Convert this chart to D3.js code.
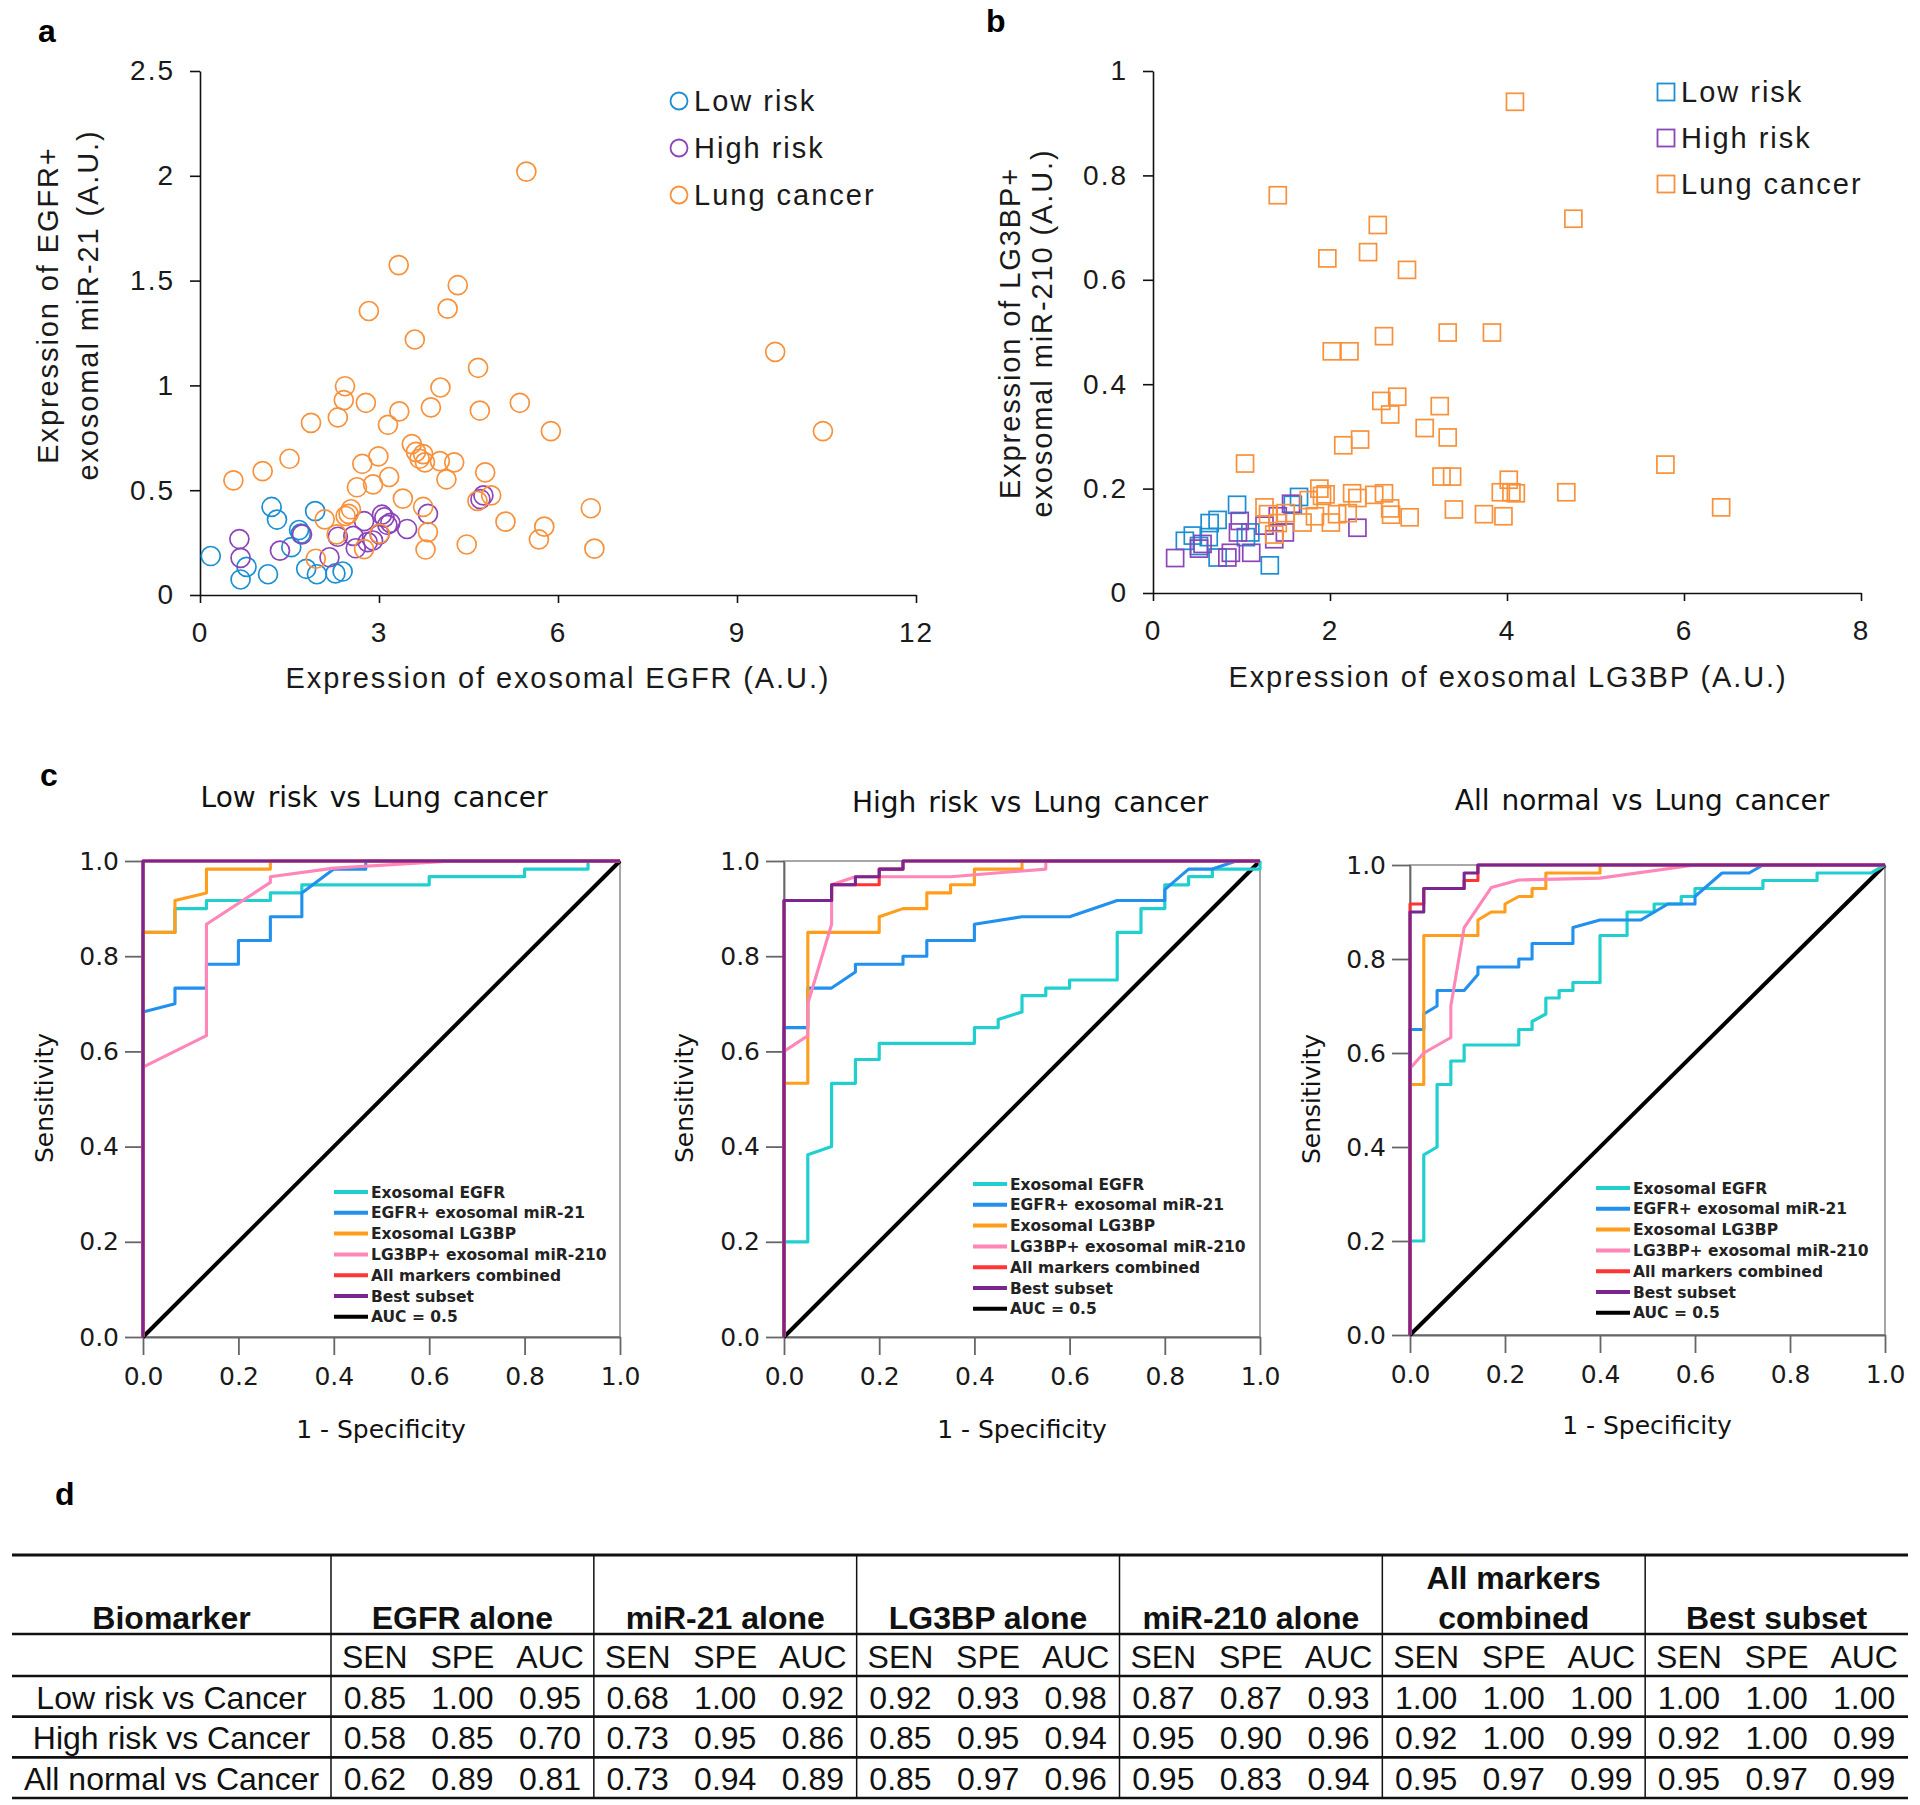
<!DOCTYPE html>
<html><head><meta charset="utf-8">
<script src="https://cdn.jsdelivr.net/npm/d3@7"></script>
<style>body{margin:0;background:#fff}svg{display:block}</style>
</head><body>
<svg id="fig" width="1920" height="1805"></svg>
<script>
// ---------- DATA ----------
const groupNames = ["Low risk", "High risk", "Lung cancer"];
const xTicksA = [0, 3, 6, 9, 12];
const yTicksA = [0, 0.5, 1, 1.5, 2, 2.5];
const xTicksB = [0, 2, 4, 6, 8];
const yTicksB = [0, 0.2, 0.4, 0.6, 0.8, 1];
const rocTicks = [0, 0.2, 0.4, 0.6, 0.8, 1.0];

const lowRiskA = [[0.18,0.186],[0.68,0.074],[0.78,0.134],[1.14,0.099],[1.20,0.42],[1.29,0.36],[1.53,0.228],[1.66,0.31],[1.69,0.293],[1.78,0.125],[1.93,0.40],[1.96,0.099],[2.27,0.103],[2.39,0.112]];
const highRiskA = [[0.66,0.267],[0.68,0.177],[1.34,0.212],[1.71,0.289],[2.17,0.18],[2.31,0.278],[2.57,0.282],[2.61,0.223],[2.75,0.352],[2.81,0.252],[2.90,0.26],[3.01,0.289],[3.05,0.383],[3.09,0.37],[3.14,0.335],[3.19,0.344],[3.47,0.315],[3.82,0.387],[4.70,0.457],[4.75,0.475]];
const lungCancerA = [[0.56,0.547],[1.05,0.591],[1.50,0.650],[1.86,0.821],[1.94,0.173],[2.09,0.361],[2.31,0.847],[2.29,0.289],[2.43,0.996],[2.41,0.93],[2.44,0.377],[2.49,0.387],[2.53,0.409],[2.63,0.514],[2.72,0.626],[2.78,0.917],[2.83,1.355],[2.75,0.219],[2.90,0.528],[2.99,0.661],[3.01,0.293],[3.15,0.812],[3.17,0.563],[3.33,1.574],[3.34,0.876],[3.40,0.46],[3.55,0.72],[3.60,1.219],[3.62,0.683],[3.68,0.65],[3.74,0.672],[3.77,0.633],[3.74,0.42],[3.82,0.30],[3.78,0.217],[3.87,0.895],[4.02,0.639],[4.03,0.99],[4.13,0.552],[4.15,1.366],[4.26,0.633],[4.32,1.478],[4.47,0.241],[4.66,1.084],[4.69,0.88],[4.65,0.449],[4.78,0.585],[4.88,0.475],[5.12,0.35],[5.36,0.917],[5.47,2.02],[5.68,0.265],[5.77,0.326],[5.88,0.782],[6.55,0.414],[6.61,0.221],[9.64,1.16],[10.44,0.782]];

const lowRiskB = [[0.36,0.10],[0.45,0.11],[0.52,0.09],[0.63,0.107],[0.64,0.134],[0.73,0.14],[0.73,0.068],[0.95,0.169],[1.05,0.107],[1.10,0.116],[1.32,0.053],[1.58,0.169],[1.65,0.184]];
const highRiskB = [[0.25,0.067],[0.52,0.085],[0.56,0.094],[0.84,0.068],[0.88,0.077],[0.96,0.116],[0.98,0.138],[1.11,0.077],[1.26,0.129],[1.37,0.103],[1.41,0.147],[1.49,0.116],[1.56,0.171],[2.31,0.125]];
const lungCancerB = [[1.04,0.248],[1.41,0.762],[1.26,0.164],[1.30,0.151],[1.37,0.112],[1.41,0.134],[1.50,0.153],[1.69,0.135],[1.76,0.178],[1.83,0.147],[1.88,0.20],[1.91,0.186],[1.95,0.189],[1.97,0.641],[2.02,0.463],[2.01,0.135],[2.08,0.151],[2.15,0.283],[2.20,0.153],[2.22,0.463],[2.25,0.191],[2.31,0.182],[2.34,0.294],[2.43,0.653],[2.50,0.188],[2.54,0.705],[2.58,0.368],[2.61,0.492],[2.61,0.191],[2.68,0.342],[2.68,0.162],[2.69,0.15],[2.76,0.376],[2.87,0.619],[2.90,0.145],[3.07,0.316],[3.24,0.358],[3.26,0.223],[3.33,0.499],[3.33,0.298],[3.38,0.223],[3.40,0.16],[3.74,0.151],[3.83,0.499],[3.93,0.193],[3.96,0.147],[4.02,0.217],[4.05,0.193],[4.09,0.941],[4.10,0.191],[4.67,0.193],[4.75,0.717],[5.79,0.246],[6.42,0.164]];

const rocSeriesNames = ["Exosomal EGFR","EGFR+ exosomal miR-21","Exosomal LG3BP","LG3BP+ exosomal miR-210","All markers combined","Best subset","AUC = 0.5"];
const rocTitles = ["Low risk vs Lung cancer","High risk vs Lung cancer","All normal vs Lung cancer"];
const chance = [[0,0],[1,1]];

// Low risk vs Lung cancer
const lowEGFR = [[0,0],[0,0.85],[0.067,0.85],[0.067,0.90],[0.133,0.90],[0.133,0.917],[0.267,0.917],[0.267,0.933],[0.333,0.933],[0.333,0.95],[0.6,0.95],[0.6,0.967],[0.8,0.967],[0.8,0.983],[0.933,0.983],[0.933,1],[1,1]];
const lowMiR21 = [[0,0],[0,0.683],[0.067,0.70],[0.067,0.733],[0.133,0.733],[0.133,0.783],[0.2,0.783],[0.2,0.833],[0.267,0.833],[0.267,0.883],[0.333,0.883],[0.333,0.933],[0.4,0.983],[0.467,0.983],[0.467,1],[1,1]];
const lowLG3BP = [[0,0],[0,0.85],[0.067,0.85],[0.067,0.917],[0.133,0.933],[0.133,0.983],[0.267,0.983],[0.267,1],[1,1]];
const lowMiR210 = [[0,0],[0,0.567],[0.133,0.633],[0.133,0.867],[0.267,0.955],[0.267,0.967],[0.4,0.985],[0.65,1],[1,1]];
const lowAll = [[0,0],[0,1],[1,1]];
const lowBest = [[0,0],[0,1],[1,1]];

// High risk vs Lung cancer
const highEGFR = [[0,0],[0,0.2],[0.05,0.2],[0.05,0.383],[0.1,0.40],[0.1,0.533],[0.15,0.533],[0.15,0.583],[0.2,0.583],[0.2,0.617],[0.4,0.617],[0.4,0.65],[0.45,0.65],[0.45,0.667],[0.5,0.683],[0.5,0.717],[0.55,0.717],[0.55,0.733],[0.6,0.733],[0.6,0.75],[0.7,0.75],[0.7,0.85],[0.75,0.85],[0.75,0.9],[0.8,0.9],[0.8,0.95],[0.85,0.95],[0.85,0.967],[0.9,0.967],[0.9,0.983],[1,0.983],[1,1]];
const highMiR21 = [[0,0],[0,0.65],[0.05,0.65],[0.05,0.733],[0.1,0.733],[0.15,0.767],[0.15,0.783],[0.25,0.783],[0.25,0.8],[0.3,0.8],[0.3,0.833],[0.4,0.833],[0.4,0.867],[0.5,0.883],[0.6,0.883],[0.7,0.917],[0.8,0.917],[0.8,0.94],[0.85,0.983],[0.9,0.983],[0.95,1],[1,1]];
const highLG3BP = [[0,0],[0,0.533],[0.05,0.533],[0.05,0.85],[0.2,0.85],[0.2,0.883],[0.25,0.9],[0.3,0.9],[0.3,0.933],[0.35,0.933],[0.35,0.95],[0.4,0.95],[0.4,0.983],[0.5,0.983],[0.5,1],[1,1]];
const highMiR210 = [[0,0],[0,0.6],[0.05,0.633],[0.05,0.7],[0.1,0.867],[0.1,0.95],[0.15,0.967],[0.35,0.967],[0.55,0.983],[0.55,1],[1,1]];
const highAll = [[0,0],[0,0.917],[0.1,0.917],[0.1,0.95],[0.2,0.95],[0.2,0.983],[0.25,0.983],[0.25,1],[1,1]];
const highBest = [[0,0],[0,0.917],[0.1,0.917],[0.1,0.95],[0.15,0.95],[0.15,0.967],[0.2,0.967],[0.2,0.983],[0.25,0.983],[0.25,1],[1,1]];

// All normal vs Lung cancer
const allEGFR = [[0,0],[0,0.2],[0.029,0.2],[0.029,0.383],[0.057,0.40],[0.057,0.533],[0.086,0.533],[0.086,0.583],[0.114,0.583],[0.114,0.617],[0.229,0.617],[0.229,0.65],[0.257,0.65],[0.257,0.667],[0.286,0.683],[0.286,0.717],[0.314,0.717],[0.314,0.733],[0.343,0.733],[0.343,0.75],[0.4,0.75],[0.4,0.85],[0.457,0.85],[0.457,0.9],[0.514,0.9],[0.514,0.917],[0.571,0.917],[0.571,0.933],[0.6,0.933],[0.6,0.95],[0.743,0.95],[0.743,0.967],[0.857,0.967],[0.857,0.983],[0.971,0.983],[1,1]];
const allMiR21 = [[0,0],[0,0.65],[0.029,0.65],[0.029,0.683],[0.057,0.70],[0.057,0.733],[0.114,0.733],[0.143,0.767],[0.143,0.783],[0.229,0.783],[0.229,0.8],[0.257,0.8],[0.257,0.833],[0.343,0.833],[0.343,0.867],[0.4,0.883],[0.486,0.883],[0.543,0.917],[0.6,0.917],[0.6,0.933],[0.657,0.983],[0.714,0.983],[0.743,1],[1,1]];
const allLG3BP = [[0,0],[0,0.533],[0.029,0.533],[0.029,0.85],[0.143,0.85],[0.143,0.883],[0.171,0.9],[0.2,0.9],[0.2,0.917],[0.229,0.933],[0.257,0.933],[0.257,0.95],[0.286,0.95],[0.286,0.983],[0.4,0.983],[0.4,1],[1,1]];
const allMiR210 = [[0,0],[0,0.567],[0.029,0.6],[0.086,0.633],[0.086,0.7],[0.114,0.867],[0.171,0.952],[0.229,0.968],[0.4,0.972],[0.6,1],[1,1]];
const allAll = [[0,0],[0,0.917],[0.029,0.917],[0.029,0.95],[0.114,0.95],[0.114,0.967],[0.143,0.967],[0.143,1],[1,1]];
const allBest = [[0,0],[0,0.9],[0.029,0.9],[0.029,0.95],[0.114,0.95],[0.114,0.983],[0.143,0.983],[0.143,1],[1,1]];

// Table
const tableGroups = ["EGFR alone","miR-21 alone","LG3BP alone","miR-210 alone","All markers combined","Best subset"];
const tableSub = ["SEN","SPE","AUC"];
const tableRows = ["Low risk vs Cancer","High risk vs Cancer","All normal vs Cancer"];
const tableValues = [
  [0.85,1.00,0.95, 0.68,1.00,0.92, 0.92,0.93,0.98, 0.87,0.87,0.93, 1.00,1.00,1.00, 1.00,1.00,1.00],
  [0.58,0.85,0.70, 0.73,0.95,0.86, 0.85,0.95,0.94, 0.95,0.90,0.96, 0.92,1.00,0.99, 0.92,1.00,0.99],
  [0.62,0.89,0.81, 0.73,0.94,0.89, 0.85,0.97,0.96, 0.95,0.83,0.94, 0.95,0.97,0.99, 0.95,0.97,0.99]
];

// ---------- STYLE ----------
const groupColors = ["#1b8fd2", "#8b45b8", "#f8913b"];
const rocColors = ["#22cfcf", "#2190ee", "#ff9d1c", "#ff86b8", "#ff3535", "#7b2590", "#000000"];
const SANS = "'Liberation Sans', Arial, sans-serif";
const DJ = "'DejaVu Sans', Verdana, sans-serif";

const svg = d3.select("#fig");

function panelLabel(t, x, y, size) {
  svg.append("text").attr("x", x).attr("y", y).attr("dy", "0.35em")
    .attr("font-family", SANS).attr("font-weight", "bold").attr("font-size", size).text(t);
}

// ---------- SCATTER ----------
function scatter(cfg) {
  const g = svg.append("g");
  const x = cfg.x, y = cfg.y;
  const txt = s => s.attr("font-family", SANS).attr("font-size", 28).attr("letter-spacing", 2).attr("fill", "#1a1a1a");
  const gx = g.append("g").attr("transform", `translate(0,${y(0)})`)
    .call(d3.axisBottom(x).tickValues(cfg.xTicks).tickFormat(d3.format("~g")).tickSize(8).tickPadding(19).tickSizeOuter(0));
  const gy = g.append("g").attr("transform", `translate(${x(0)},0)`)
    .call(d3.axisLeft(y).tickValues(cfg.yTicks).tickFormat(d3.format("~g")).tickSize(10).tickPadding(15).tickSizeOuter(0));
  [gx, gy].forEach(a => {
    a.select(".domain").attr("stroke", "#111").attr("stroke-width", 1.6);
    a.selectAll(".tick line").attr("stroke", "#111").attr("stroke-width", 1.6);
    a.selectAll(".tick text").call(txt);
  });
  g.append("text").attr("x", cfg.xTitleX).attr("y", cfg.xTitleY).attr("dy", "0.35em")
    .attr("text-anchor", "middle").call(txt).attr("font-size", 29).attr("letter-spacing", 1.9).text(cfg.xTitle);
  cfg.yTitle.forEach((t, i) => {
    g.append("text").attr("transform", `translate(${cfg.yTitleX[i]},${cfg.yTitleY}) rotate(-90)`).attr("dy", "0.35em")
      .attr("text-anchor", "middle").call(txt).attr("font-size", 29).attr("letter-spacing", 1.9).text(t);
  });
  cfg.series.forEach((data, i) => {
    const sg = g.append("g").attr("fill", "none").attr("stroke", groupColors[i]).attr("stroke-width", 1.7);
    if (cfg.shape === "circle") {
      sg.selectAll("circle").data(data).join("circle")
        .attr("cx", d => x(d[0])).attr("cy", d => y(d[1])).attr("r", 9.5);
    } else {
      sg.selectAll("rect").data(data).join("rect")
        .attr("x", d => x(d[0]) - 8.5).attr("y", d => y(d[1]) - 8.5).attr("width", 17).attr("height", 17);
    }
  });
  groupNames.forEach((n, i) => {
    const ly = cfg.legY[i];
    if (cfg.shape === "circle") {
      g.append("circle").attr("cx", cfg.legX).attr("cy", ly).attr("r", 8.5)
        .attr("fill", "none").attr("stroke", groupColors[i]).attr("stroke-width", 1.8);
    } else {
      g.append("rect").attr("x", cfg.legX - 8.5).attr("y", ly - 8.5).attr("width", 17).attr("height", 17)
        .attr("fill", "none").attr("stroke", groupColors[i]).attr("stroke-width", 1.8);
    }
    g.append("text").attr("x", cfg.legX + 15).attr("y", ly).attr("dy", "0.35em").call(txt)
      .attr("font-size", 29).text(n);
  });
}

scatter({
  x: d3.scaleLinear().domain([0, 12]).range([200, 916]),
  y: d3.scaleLinear().domain([0, 2.5]).range([595, 71]),
  xTicks: xTicksA, yTicks: yTicksA,
  series: [lowRiskA, highRiskA, lungCancerA], shape: "circle",
  xTitle: "Expression of exosomal EGFR (A.U.)", xTitleX: 558, xTitleY: 678,
  yTitle: ["Expression of EGFR+", "exosomal miR-21 (A.U.)"], yTitleX: [48, 88], yTitleY: 305,
  legX: 679, legY: [101, 148, 195]
});
scatter({
  x: d3.scaleLinear().domain([0, 8]).range([1153, 1861]),
  y: d3.scaleLinear().domain([0, 1]).range([593, 71]),
  xTicks: xTicksB, yTicks: yTicksB,
  series: [lowRiskB, highRiskB, lungCancerB], shape: "square",
  xTitleX: 1508, xTitleY: 677, xTitle: "Expression of exosomal LG3BP (A.U.)",
  yTitle: ["Expression of LG3BP+", "exosomal miR-210 (A.U.)"], yTitleX: [1010, 1042], yTitleY: 333,
  legX: 1666, legY: [92, 138, 184]
});

panelLabel("a", 38, 31, 32);
panelLabel("b", 986, 21, 32);
panelLabel("c", 40, 775, 32);
panelLabel("d", 55, 1494, 32);

// ---------- ROC ----------
function roc(cfg) {
  const g = svg.append("g");
  const x = d3.scaleLinear().domain([0, 1]).range(cfg.xr);
  const y = d3.scaleLinear().domain([0, 1]).range(cfg.yr);
  g.append("rect").attr("x", cfg.xr[0]).attr("y", cfg.yr[1]).attr("width", cfg.xr[1] - cfg.xr[0])
    .attr("height", cfg.yr[0] - cfg.yr[1]).attr("fill", "none").attr("stroke", "#8a8a8a").attr("stroke-width", 1.5);
  const gx = g.append("g").attr("transform", `translate(0,${cfg.yr[0]})`)
    .call(d3.axisBottom(x).tickValues(rocTicks).tickFormat(d3.format(".1f")).tickSize(18).tickPadding(12).tickSizeOuter(0));
  const gy = g.append("g").attr("transform", `translate(${cfg.xr[0]},0)`)
    .call(d3.axisLeft(y).tickValues(rocTicks).tickFormat(d3.format(".1f")).tickSize(18).tickPadding(6).tickSizeOuter(0));
  [gx, gy].forEach(a => {
    a.select(".domain").attr("stroke", "#666").attr("stroke-width", 1.8);
    a.selectAll(".tick line").attr("stroke", "#666").attr("stroke-width", 1.8);
    a.selectAll(".tick text").attr("font-family", DJ).attr("font-size", 25).attr("fill", "#1a1a1a");
  });
  g.append("text").attr("x", cfg.title[0]).attr("y", cfg.title[1]).attr("dy", "0.35em").attr("text-anchor", "middle")
    .attr("font-family", DJ).attr("font-size", 28).attr("word-spacing", 3).attr("fill", "#111").text(cfg.titleText);
  g.append("text").attr("x", cfg.spec[0]).attr("y", cfg.spec[1]).attr("dy", "0.35em").attr("text-anchor", "middle")
    .attr("font-family", DJ).attr("font-size", 25).attr("fill", "#111").text("1 - Specificity");
  g.append("text").attr("transform", `translate(${cfg.sensX},${cfg.sensY}) rotate(-90)`).attr("dy", "0.35em")
    .attr("text-anchor", "middle").attr("font-family", DJ).attr("font-size", 25).attr("fill", "#111").text("Sensitivity");

  const line = d3.line().x(d => x(d[0])).y(d => y(d[1]));
  g.append("path").attr("d", line(chance)).attr("fill", "none").attr("stroke", rocColors[6]).attr("stroke-width", 4);
  cfg.curves.forEach((c, i) => {
    g.append("path").attr("d", line(c)).attr("fill", "none").attr("stroke", rocColors[i])
      .attr("stroke-width", i === 0 ? 3.2 : 3.1).attr("stroke-linejoin", "round");
  });
  rocSeriesNames.forEach((n, i) => {
    const ly = cfg.leg[1] + i * 20.8;
    g.append("line").attr("x1", cfg.leg[0]).attr("x2", cfg.leg[0] + 34).attr("y1", ly).attr("y2", ly)
      .attr("stroke", rocColors[i]).attr("stroke-width", 4);
    g.append("text").attr("x", cfg.leg[0] + 37).attr("y", ly).attr("dy", "0.36em")
      .attr("font-family", DJ).attr("font-weight", "bold").attr("font-size", 15.5).attr("fill", "#222").text(n);
  });
}

roc({ xr: [143, 620], yr: [1337, 861], title: [374, 797], titleText: rocTitles[0], spec: [381, 1429], sensX: 44, sensY: 1098,
  leg: [334, 1192], curves: [lowEGFR, lowMiR21, lowLG3BP, lowMiR210, lowAll, lowBest] });
roc({ xr: [784, 1260], yr: [1337, 861], title: [1030, 802], titleText: rocTitles[1], spec: [1022, 1429], sensX: 684, sensY: 1098,
  leg: [973, 1184], curves: [highEGFR, highMiR21, highLG3BP, highMiR210, highAll, highBest] });
roc({ xr: [1410, 1885], yr: [1335, 865], title: [1642, 800], titleText: rocTitles[2], spec: [1647, 1425], sensX: 1311, sensY: 1099,
  leg: [1596, 1188], curves: [allEGFR, allMiR21, allLG3BP, allMiR210, allAll, allBest] });

// ---------- TABLE ----------
(function table() {
  const g = svg.append("g").attr("font-family", SANS).attr("font-size", 32).attr("fill", "#111");
  const left = 12, right = 1908, firstCol = 331;
  const gx = d3.scaleBand().domain(tableGroups).range([firstCol, right]);
  const sx = d3.scaleBand().domain(tableSub).range([0, gx.bandwidth()]);
  const ry = d3.scaleBand().domain(tableRows).range([1676, 1798]);
  const yTop = 1555, yHead = 1634, ySub = 1676;

  [yTop, yHead, ySub].concat(tableRows.map(r => ry(r) + ry.bandwidth())).forEach((yy, i) => {
    g.append("line").attr("x1", left).attr("x2", right).attr("y1", yy).attr("y2", yy)
      .attr("stroke", "#111").attr("stroke-width", (i === 0) ? 3 : 2.6);
  });
  tableGroups.forEach(gr => {
    g.append("line").attr("x1", gx(gr)).attr("x2", gx(gr)).attr("y1", yTop).attr("y2", 1798)
      .attr("stroke", "#111").attr("stroke-width", 1.5);
  });
  g.append("text").attr("x", (left + firstCol) / 2).attr("y", 1618).attr("dy", "0.35em").attr("text-anchor", "middle")
    .attr("font-weight", "bold").text("Biomarker");
  tableGroups.forEach(gr => {
    const cx = gx(gr) + gx.bandwidth() / 2;
    const lines = gr.length > 15 ? [gr.slice(0, gr.lastIndexOf(" ")), gr.slice(gr.lastIndexOf(" ") + 1)] : [gr];
    lines.forEach((l, k) => {
      g.append("text").attr("x", cx).attr("y", 1618 - (lines.length - 1 - k) * 40).attr("dy", "0.35em")
        .attr("text-anchor", "middle").attr("font-weight", "bold").text(l);
    });
    tableSub.forEach(s => {
      g.append("text").attr("x", gx(gr) + sx(s) + sx.bandwidth() / 2).attr("y", 1657).attr("dy", "0.35em")
        .attr("text-anchor", "middle").text(s);
    });
  });
  tableRows.forEach((r, ri) => {
    const cy = ry(r) + ry.bandwidth() / 2 + 1;
    g.append("text").attr("x", (left + firstCol) / 2).attr("y", cy).attr("dy", "0.35em").attr("text-anchor", "middle").text(r);
    tableValues[ri].forEach((v, ci) => {
      const gr = tableGroups[Math.floor(ci / 3)], s = tableSub[ci % 3];
      g.append("text").attr("x", gx(gr) + sx(s) + sx.bandwidth() / 2).attr("y", cy).attr("dy", "0.35em")
        .attr("text-anchor", "middle").text(d3.format(".2f")(v));
    });
  });
})();
</script>
</body></html>
